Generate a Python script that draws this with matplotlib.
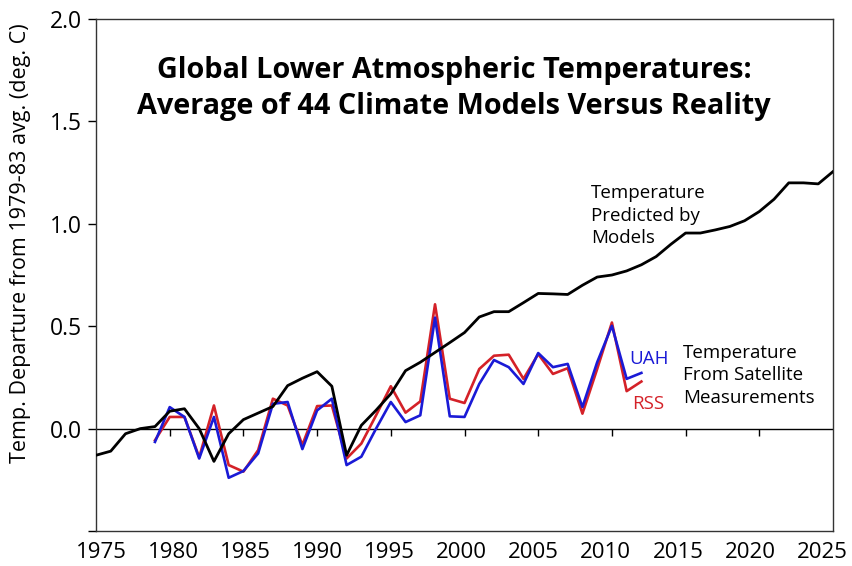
import numpy as np
import matplotlib.pyplot as plt
import matplotlib.transforms as mtransforms

plt.rcParams["font.family"] = ["Open Sans", "DejaVu Sans"]

# model average, annual
model_years = list(range(1975, 2026))
model_temp = [
    -0.13, -0.11, -0.025, 0.00, 0.01, 0.085, 0.097, 0.00, -0.16, -0.025,
    0.044, 0.076, 0.108, 0.21, 0.246, 0.278, 0.207, -0.13, 0.016, 0.09,
    0.17, 0.283, 0.324, 0.372, 0.42, 0.469, 0.545, 0.571, 0.571, 0.615,
    0.66, 0.658, 0.655, 0.70, 0.74, 0.75, 0.77, 0.80, 0.84, 0.90,
    0.955, 0.955, 0.97, 0.987, 1.015, 1.06, 1.12, 1.20, 1.20, 1.195,
    1.255,
]

# satellite measurements, annual
sat_years = list(range(1979, 2013))
uah = [
    -0.065, 0.105, 0.057, -0.146, 0.057, -0.24, -0.207, -0.121, 0.121, 0.13,
    -0.10, 0.089, 0.146, -0.178, -0.137, 0.0, 0.13, 0.032, 0.065, 0.542,
    0.06, 0.057, 0.218, 0.335, 0.30, 0.218, 0.369, 0.30, 0.316, 0.105,
    0.324, 0.502, 0.243, 0.272,
]
rss = [
    -0.057, 0.057, 0.057, -0.14, 0.113, -0.178, -0.21, -0.105, 0.146, 0.113,
    -0.08, 0.11, 0.113, -0.146, -0.073, 0.065, 0.207, 0.078, 0.133, 0.607,
    0.146, 0.125, 0.291, 0.356, 0.361, 0.243, 0.364, 0.267, 0.295, 0.073,
    0.291, 0.518, 0.183, 0.23,
]

x_ticks = list(range(1975, 2030, 5))
y_ticks = [-0.5, 0.0, 0.5, 1.0, 1.5, 2.0]
y_labels = ["", "0.0", "0.5", "1.0", "1.5", "2.0"]

blue = "#1a1ad6"
red = "#d42128"

fig = plt.figure(figsize=(8.52, 5.66), dpi=100)
ax = fig.add_axes([0.1127, 0.0618, 0.865, 0.9046])

ax.axhline(0, color="black", lw=1.0, zorder=1)
ax.plot(model_years, model_temp, color="black", lw=2.0, zorder=3)
ax.plot(sat_years, rss, color=red, lw=1.9, zorder=2)
ax.plot(sat_years, uah, color=blue, lw=1.9, zorder=2)

ax.set_xlim(1975, 2025)
ax.set_ylim(-0.5, 2.0)
ax.set_yticks(y_ticks)
ax.set_yticklabels(y_labels)
ax.set_xticks(x_ticks)
ax.tick_params(axis="y", length=6, width=1, labelsize=16.5, pad=4)
ax.tick_params(axis="x", length=0, labelsize=16, pad=8)
for s in ax.spines.values():
    s.set_linewidth(1.0)
    s.set_color("#333333")

# year labels sit a little inward, so 2025 stays inside the picture
for i, lab in enumerate(ax.get_xticklabels()):
    dx = (5.5 - i * 1.65) / fig.dpi
    lab.set_transform(lab.get_transform() + mtransforms.ScaledTranslation(dx, 0, fig.dpi_scale_trans))

# small ticks hanging below the zero line
zero_axis = ax.secondary_xaxis(0.2)
zero_axis.set_xticks(x_ticks[1:-1])
zero_axis.tick_params(length=5, width=1, labelbottom=False)
zero_axis.spines["bottom"].set_visible(False)

ax.set_ylabel("Temp. Departure from 1979-83 avg. (deg. C)", fontsize=15.5)
ax.yaxis.set_label_coords(-0.088, 0.5625)

ax.text(1999.3, 1.66, "Global Lower Atmospheric Temperatures:\nAverage of 44 Climate Models Versus Reality",
        ha="center", va="center", fontsize=20.8, fontweight="bold", linespacing=1.3)

ax.text(2008.6, 1.04, "Temperature\nPredicted by\nModels", ha="left", va="center",
        fontsize=13.5, linespacing=1.3)
ax.text(2011.2, 0.34, "UAH", color=blue, ha="left", va="center", fontsize=13.5)
ax.text(2011.4, 0.12, "RSS", color=red, ha="left", va="center", fontsize=13.5)
ax.text(2014.8, 0.26, "Temperature\nFrom Satellite\nMeasurements", ha="left", va="center",
        fontsize=13.5, linespacing=1.3)

plt.savefig("out.png", dpi=100)
plt.close()
